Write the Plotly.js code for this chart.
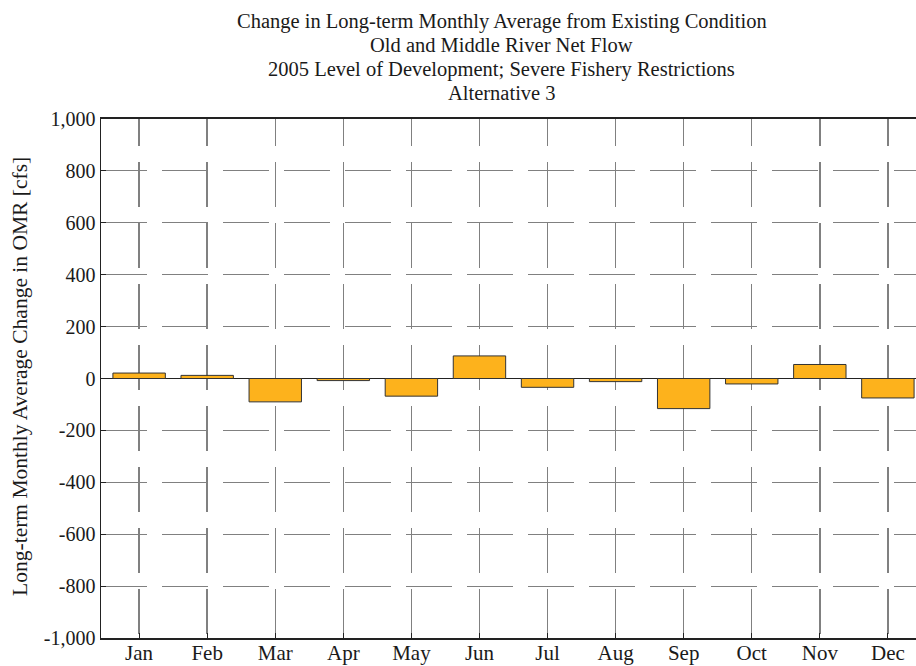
<!DOCTYPE html>
<html>
<head>
<meta charset="utf-8">
<script src="https://cdn.plot.ly/plotly-3.0.1.min.js"></script>
<style>
html, body { margin: 0; padding: 0; overflow: hidden; background: #fff; }
#chart { width: 930px; height: 666px; }
</style>
</head>
<body>
<div id="chart"></div>
<script>
var months = ["Jan", "Feb", "Mar", "Apr", "May", "Jun", "Jul", "Aug", "Sep", "Oct", "Nov", "Dec"];
var changeCfs = [21, 12, -90, -8, -68, 87, -34, -12, -116, -21, 54, -75];
var yTickVals = [-1000, -800, -600, -400, -200, 0, 200, 400, 600, 800, 1000];
var yTickText = ["-1,000", "-800", "-600", "-400", "-200", "0", "200", "400", "600", "800", "1,000"];
var titleLines = [
  "Change in Long-term Monthly Average from Existing Condition",
  "Old and Middle River Net Flow",
  "2005 Level of Development; Severe Fishery Restrictions",
  "Alternative 3"
];
var yTitle = "Long-term Monthly Average Change in OMR [cfs]";

var font = "Liberation Serif, Times New Roman, serif";
var txtColor = "#1a1a1a";

var trace = {
  type: "bar",
  x: months,
  y: changeCfs,
  marker: { color: "#FDB21C", line: { color: "#333333", width: 1 } },
  hoverinfo: "x+y"
};

var titleY = [1.1888, 1.1426, 1.0963, 1.0501];
var annotations = titleLines.map(function (t, i) {
  return {
    text: t, xref: "paper", yref: "paper", x: 0.486, y: titleY[i],
    xanchor: "center", yanchor: "middle", showarrow: false,
    font: { family: font, size: 20.5, color: txtColor }
  };
});
annotations.push({
  text: yTitle, xref: "paper", yref: "paper", x: -0.0982, y: 0.505,
  xanchor: "center", yanchor: "middle", showarrow: false, textangle: -90,
  font: { family: font, size: 21.5, color: txtColor }
});

var layout = {
  width: 930,
  height: 666,
  margin: { l: 101, r: 4, t: 119, b: 28 },
  paper_bgcolor: "#ffffff",
  plot_bgcolor: "#ffffff",
  font: { family: font, size: 20, color: txtColor },
  showlegend: false,
  bargap: 0.23,
  annotations: annotations,
  xaxis: {
    type: "category",
    categoryorder: "array",
    categoryarray: months,
    range: [-0.56, 11.56],
    showgrid: true,
    gridcolor: "#808080",
    gridwidth: 1.5,
    griddash: "45px,16px",
    showline: true,
    linecolor: "#222222",
    linewidth: 2,
    mirror: true,
    ticks: "inside",
    ticklen: 5,
    tickcolor: "#222222",
    tickfont: { family: font, size: 21, color: txtColor },
    ticklabelstandoff: -5,
    zeroline: false,
    fixedrange: true
  },
  yaxis: {
    range: [-1000, 1000],
    tickvals: yTickVals,
    ticktext: yTickText,
    showgrid: true,
    gridcolor: "#808080",
    gridwidth: 1,
    griddash: "46px,15px",
    showline: true,
    linecolor: "#222222",
    linewidth: 1.5,
    mirror: true,
    ticks: "inside",
    ticklen: 5,
    tickcolor: "#222222",
    tickfont: { family: font, size: 20, color: txtColor },
    zeroline: true,
    zerolinecolor: "#222222",
    zerolinewidth: 1.5,
    automargin: false,
    fixedrange: true
  }
};

Plotly.newPlot("chart", [trace], layout, { displayModeBar: false, staticPlot: true }).then(function () {
  var xg = document.querySelectorAll(".xgrid");
  xg.forEach(function (p) { p.style.strokeDashoffset = "18px"; });
});
</script>
</body>
</html>
